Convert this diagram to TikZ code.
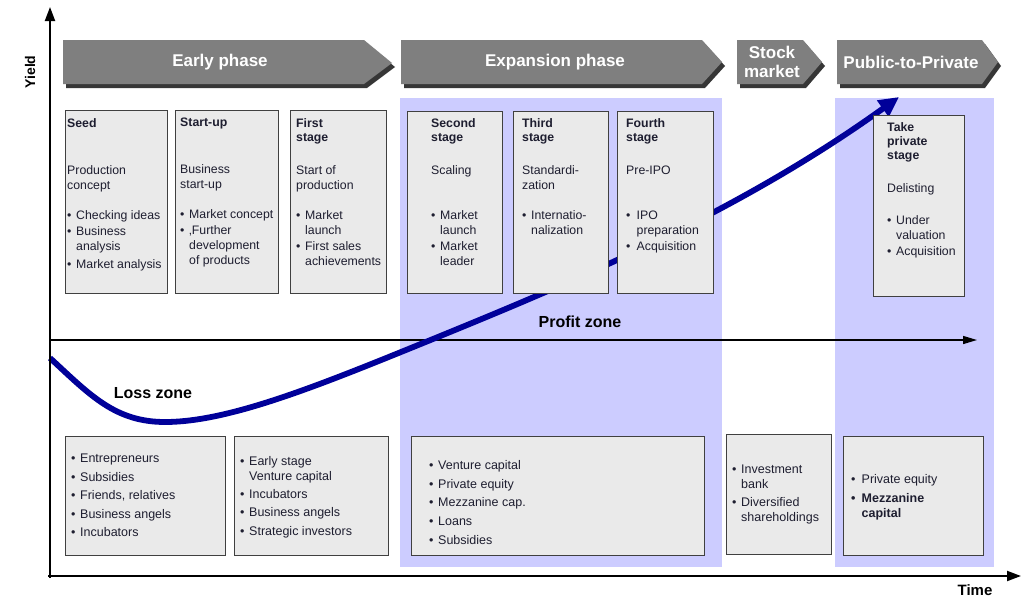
\documentclass[tikz,border=0pt]{standalone}
\usepackage{fontspec}
\setmainfont{Liberation Sans}
\usetikzlibrary{arrows.meta}
\definecolor{zoneblue}{HTML}{CCCCFF}
\definecolor{chevgray}{HTML}{7F7F7F}
\definecolor{chevshadow}{HTML}{363636}
\definecolor{boxfill}{HTML}{EAEAEA}
\definecolor{boxline}{HTML}{404040}
\definecolor{curveblue}{HTML}{000099}
\definecolor{txt}{HTML}{1E1E30}
\newcommand\bi{\makebox[9pt][l]{•}}
\newcommand\bx{\hspace*{9pt}}
\newcommand\biw{\makebox[10.5pt][l]{•}}
\newcommand\bxw{\hspace*{10.5pt}}
\begin{document}
\begin{tikzpicture}[x=1pt,y=-1pt,
  stagebox/.style={draw=boxline, line width=1.2pt, fill=boxfill, rectangle, inner sep=0pt, anchor=north west},
  stagetext/.style={anchor=north west, inner sep=0pt, align=left, text=txt, font=\fontsize{12.3}{15}\selectfont},
  fundtext/.style={anchor=north west, inner sep=0pt, align=left, text=txt, font=\fontsize{12.5}{18.5}\selectfont},
  phasetext/.style={text=white, font=\bfseries\fontsize{17}{19}\selectfont, align=center, inner sep=0pt},
  zonelabel/.style={font=\bfseries\fontsize{16}{18}\selectfont, text=black, inner sep=0pt},
  chev/.style={fill=chevgray},
  chevsh/.style={fill=chevshadow},
  axis/.style={line width=2pt, -{Triangle[length=14pt,width=10pt]}},
]
\useasboundingbox (0,0) rectangle (1033,600);
\fill[white] (0,0) rectangle (1033,600);

% blue zones
\fill[zoneblue] (400,98) rectangle (722,567);
\fill[zoneblue] (835,98) rectangle (994,567);

% profit line
\coordinate (pstart) at (50,340);
\coordinate (pend) at (977,340);
\draw[line width=1.4pt, -{Triangle[length=14pt,width=8pt]}] (pstart) -- (pend);

% yield curve
\coordinate (cstart) at (50,358);
\coordinate (cmin) at (165,422);
\coordinate (ccross) at (433,339);
\coordinate (cend) at (899,97);
\draw[curveblue, line width=5.8pt, -{Triangle[length=20pt,width=19pt]}]
  (cstart) .. controls (90,395) and (115,422) .. (cmin)
  .. controls (230,422) and (320,385) .. (ccross)
  .. controls (565,285) and (735,215) .. (cend);

% stage boxes
\node[stagebox, minimum width=102pt, minimum height=183pt] (seed) at (65,110) {};
\node[stagebox, minimum width=103pt, minimum height=183pt] (startup) at (175,110) {};
\node[stagebox, minimum width=96pt, minimum height=183pt] (first) at (290,110) {};
\node[stagebox, minimum width=95pt, minimum height=182pt] (second) at (407,111) {};
\node[stagebox, minimum width=95pt, minimum height=182pt] (third) at (513,111) {};
\node[stagebox, minimum width=96pt, minimum height=182pt] (fourth) at (617,111) {};
\node[stagebox, minimum width=91pt, minimum height=181pt] (take) at (873,115) {};

\node[stagetext] (seedt) at (67,118) {\textbf{Seed}\\[32pt]
Production\\concept\\[15pt]
\bi Checking ideas\\[1pt]
\bi Business\\\bx analysis\\[3pt]
\bi Market analysis};
\node[stagetext] (startupt) at (180,118) {\textbf{Start-up}\\[32pt]
Business\\start-up\\[15pt]
\bi Market concept\\[1pt]
\bi ‚Further\\\bx development\\\bx of products};
\node[stagetext] (firstt) at (296,118) {\textbf{First}\\[-1pt]\textbf{stage}\\[18pt]
Start of\\production\\[15pt]
\bi Market\\\bx launch\\[1pt]
\bi First sales\\\bx achievements};
\node[stagetext] (secondt) at (431,118) {\textbf{Second}\\[-1pt]\textbf{stage}\\[18pt]
Scaling\\[30pt]
\bi Market\\\bx launch\\[1pt]
\bi Market\\\bx leader};
\node[stagetext] (thirdt) at (522,118) {\textbf{Third}\\[-1pt]\textbf{stage}\\[18pt]
Standardi-\\zation\\[15pt]
\bi Internatio-\\\bx nalization};
\node[stagetext] (fourtht) at (626,118) {\textbf{Fourth}\\[-1pt]\textbf{stage}\\[18pt]
Pre-IPO\\[30pt]
\biw IPO\\\bxw preparation\\[1pt]
\biw Acquisition};
\node[stagetext] (taket) at (887,122) {\textbf{Take}\\[-1pt]\textbf{private}\\[-1pt]\textbf{stage}\\[18pt]
Delisting\\[17pt]
\bi Under\\\bx valuation\\[1pt]
\bi Acquisition};

% funding boxes
\node[stagebox, minimum width=160pt, minimum height=119pt] (fund1) at (65,436) {};
\node[stagebox, minimum width=154pt, minimum height=119pt] (fund2) at (234,436) {};
\node[stagebox, minimum width=293pt, minimum height=119pt] (fund3) at (411,436) {};
\node[stagebox, minimum width=105pt, minimum height=120pt] (fund4) at (726,434) {};
\node[stagebox, minimum width=140pt, minimum height=119pt] (fund5) at (843,436) {};

\node[fundtext] (fund1t) at (71,454) {\bi Entrepreneurs\\\bi Subsidies\\\bi Friends, relatives\\\bi Business angels\\\bi Incubators};
\node[fundtext] (fund2t) at (240,456) {\bi Early stage\\[-3.5pt]\bx Venture capital\\[-0.5pt]\bi Incubators\\\bi Business angels\\\bi Strategic investors};
\node[fundtext, font=\fontsize{12.5}{18.75}\selectfont] (fund3t) at (429,460) {\bi Venture capital\\\bi Private equity\\\bi Mezzanine cap.\\\bi Loans\\\bi Subsidies};
\node[fundtext, font=\fontsize{12.5}{15}\selectfont] (fund4t) at (732,465) {\bi Investment\\\bx bank\\[3pt]\bi Diversified\\\bx shareholdings};
\node[fundtext, font=\fontsize{12.5}{15}\selectfont] (fund5t) at (851,474) {\biw Private equity\\[4pt]\textbf{\biw Mezzanine}\\\textbf{\bxw capital}};

% chevrons
\fill[chevsh] (66,44) -- (367,44) -- (395,67) -- (367,88) -- (66,88) -- cycle;
\fill[chev] (63,40) -- (364,40) -- (392,63) -- (364,84) -- (63,84) -- cycle;
\fill[chevsh] (404,44) -- (705,44) -- (725,66) -- (705,88) -- (404,88) -- cycle;
\fill[chev] (401,40) -- (702,40) -- (722,62) -- (702,84) -- (401,84) -- cycle;
\fill[chevsh] (740,44) -- (806,44) -- (825,66) -- (806,88) -- (740,88) -- cycle;
\fill[chev] (737,40) -- (803,40) -- (822,62) -- (803,84) -- (737,84) -- cycle;
\fill[chevsh] (840,44) -- (985,44) -- (1001,66) -- (985,88) -- (840,88) -- cycle;
\fill[chev] (837,40) -- (982,40) -- (998,62) -- (982,84) -- (837,84) -- cycle;

\node[phasetext] (early) at (220,62) {Early phase};
\node[phasetext] (expansion) at (555,62) {Expansion phase};
\node[phasetext] (stock) at (772,62) {Stock\\market};
\node[phasetext] (p2p) at (911,62) {Public-to-Private};

% axes
\coordinate (origin) at (50,578);
\coordinate (ytop) at (50,7);
\coordinate (xorigin) at (48,576);
\coordinate (xend) at (1021,576);
\draw[axis] (origin) -- (ytop);
\draw[axis] (xorigin) -- (xend);

% labels
\node[zonelabel] (profit) at (580,322) {Profit zone};
\node[zonelabel] (loss) at (153,393) {Loss zone};
\node[font=\bfseries\fontsize{15}{17}\selectfont, inner sep=0pt] (time) at (975,590) {Time};
\node[font=\bfseries\fontsize{14}{16}\selectfont, rotate=90, inner sep=0pt] (yield) at (30,72) {Yield};
\end{tikzpicture}
\end{document}
